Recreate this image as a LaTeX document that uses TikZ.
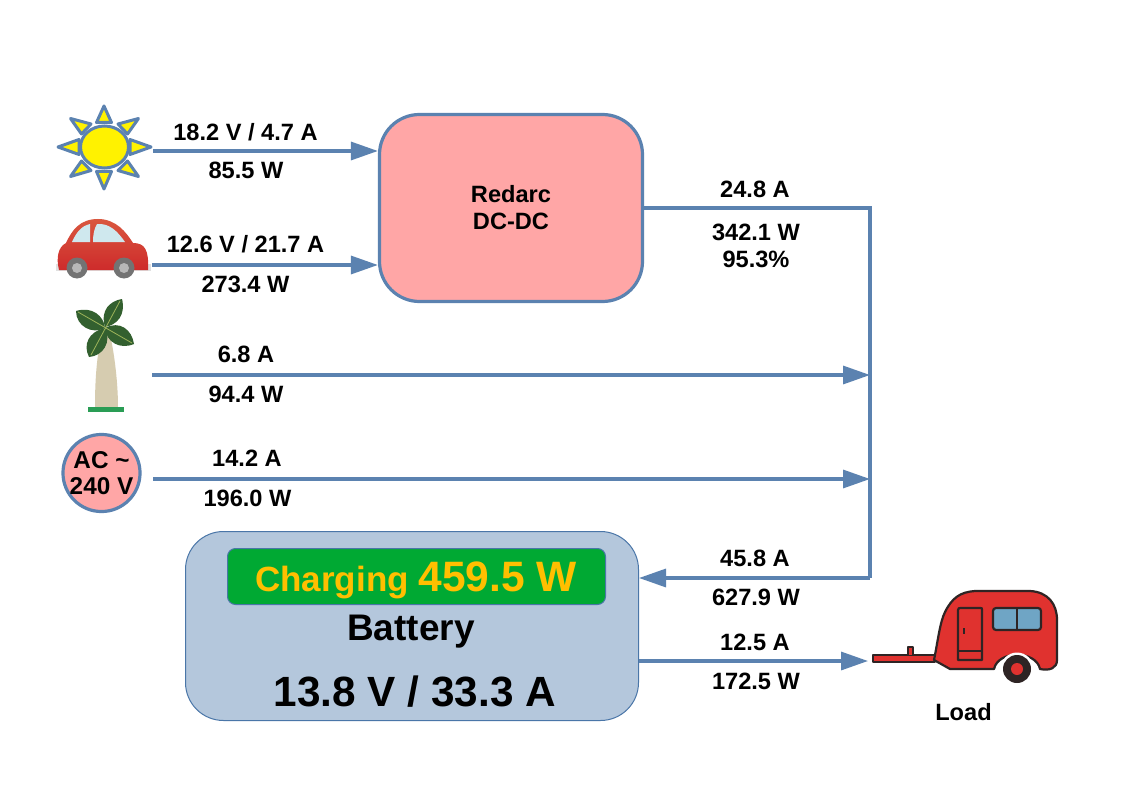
\documentclass[tikz,border=0pt]{standalone}
\usepackage{fontspec}
\setmainfont{Liberation Sans}
\usetikzlibrary{arrows.meta}
\definecolor{flow}{HTML}{5B82B0}
\definecolor{boxpink}{HTML}{FFA6A6}
\definecolor{batblue}{HTML}{B4C7DC}
\definecolor{batline}{HTML}{4A76A8}
\definecolor{chgreen}{HTML}{00A933}
\definecolor{chgold}{HTML}{FFBF00}
\definecolor{cartop}{HTML}{D9573F}
\definecolor{carlow}{HTML}{CE2B2B}
\definecolor{carglass}{HTML}{CFE8EE}
\definecolor{leafgreen}{HTML}{33602F}
\definecolor{veingreen}{HTML}{9DB35A}
\definecolor{trunk}{HTML}{D6CCB0}
\definecolor{grass}{HTML}{2A9D55}
\definecolor{van}{HTML}{E0322F}
\definecolor{vanline}{HTML}{2E2424}
\definecolor{vanglass}{HTML}{6FA5C5}
\tikzset{
  x=1pt,y=-1pt,
  flowline/.style={draw=flow,line width=3.2pt},
  flowarrow/.style={flowline,-{Triangle[length=27pt,width=18pt]}},
  lbl/.style={font=\fontsize{23.6}{27}\selectfont\bfseries,anchor=base,inner sep=0pt,text=black},
  ray/.style={draw=flow,fill=yellow,line width=3pt,line join=round},
  leafshape/.style={fill=leafgreen,draw=none},
  vein/.style={draw=veingreen,line width=.8pt},
  vanstroke/.style={fill=van,draw=vanline,line width=2.2pt,line join=round},
  vanmark/.style={draw=vanline,line width=2.2pt}
}
\begin{document}
\begin{tikzpicture}
\useasboundingbox (0,0) rectangle (1123,794);
\fill[white] (0,0) rectangle (1123,794);

% sun
\foreach \a/\b/\c/\d/\e/\f in {104/106/96.5/122.5/111.5/122.5, 104/189/96.5/171.5/111.5/171.5, 58/147/79/139.5/79/154.5, 151/147/130/139.5/130/154.5,
   70.5/118.5/81.5/134/91/124, 138.5/118.5/127.5/134/118/124, 70.5/176.5/81.5/161/91/170.5, 138.5/176.5/127.5/161/118/170.5}{
  \path[ray] (\a,\b) -- (\c,\d) -- (\e,\f) -- cycle;
}
\path[draw=flow,fill=yellow,line width=3pt] (104.5,147) ellipse [x radius=24,y radius=21];

% car
\fill[black!12] (56,264) rectangle (151,271);
\path[top color=cartop,bottom color=carlow,draw=none] (59,270) .. controls (56,258) and (58,247) .. (66,243)
  .. controls (72,230) and (80,219) .. (98,219) .. controls (116,219) and (126,232) .. (133,243)
  .. controls (145,243) and (149,250) .. (148,270) -- cycle;
\fill[carglass] (72,242) .. controls (76,233) and (81,226) .. (90,224) -- (90,242) -- cycle;
\fill[carglass] (97,224) .. controls (110,223) and (118,232) .. (125,242) -- (93,242) .. controls (93,235) and (94,229) .. (97,224) -- cycle;
\foreach \cx in {77,124}{
  \fill[black!55] (\cx,268) circle (10.5);
  \fill[black!28] (\cx,268) circle (5);
}

% tree
\fill[trunk] (95,407) .. controls (95,385) and (96,355) .. (103,330) -- (109,330)
   .. controls (115,355) and (118,385) .. (118,407) -- cycle;
\fill[grass] (88,407) rectangle (124,412);
\path[leafshape] (105,328) .. controls (104,316) and (92,306) .. (76,311) .. controls (76,326) and (92,335) .. (105,328) -- cycle;
\path[leafshape] (105,327) .. controls (100,310) and (110,301) .. (122,299) .. controls (126,315) and (117,325) .. (105,327) -- cycle;
\path[leafshape] (105,328) .. controls (120,320) and (132,330) .. (134,344) .. controls (120,350) and (106,342) .. (105,328) -- cycle;
\path[leafshape] (105,328) .. controls (112,342) and (103,356) .. (89,357) .. controls (83,345) and (88,332) .. (105,328) -- cycle;
\draw[vein] (78,312) -- (132,343) (120,301) -- (91,355);

% caravan
\path[vanstroke] (873,655) -- (935,655) -- (935,662) -- (873,662) -- cycle;
\path[vanstroke] (908,655) -- (908,647) -- (913,647) -- (913,655);
\path[vanstroke] (934,660) .. controls (938,640) and (940,622) .. (945,612) .. controls (952,598) and (960,592) .. (975,591)
   -- (1030,591) .. controls (1048,592) and (1057,604) .. (1057,620) -- (1057,660)
   .. controls (1057,668) and (1050,671) .. (1040,669) .. controls (1036,650) and (998,650) .. (994,669)
   -- (950,669) -- cycle;
\path[vanstroke] (958,610) .. controls (958,608) and (959,608) .. (961,608) -- (980,608) .. controls (982,608) and (982,608) .. (982,610) -- (982,660) -- (958,660) -- cycle;
\draw[vanmark] (958,651) -- (982,651);
\draw[vanmark] (964,628) -- (964,634);
\path[fill=vanglass,draw=vanline,line width=2.2pt,rounded corners=3pt] (993,608) rectangle (1041,630);
\draw[vanmark] (1017,608) -- (1017,630);
\fill[white] (1017,669) circle (16.5);
\fill[vanline] (1017,669) circle (14);
\fill[van] (1017,669) circle (6);

% boxes
\node[draw=flow,fill=boxpink,line width=3.2pt,rounded corners=40pt,minimum width=263pt,minimum height=187pt,
      align=center,font=\fontsize{23.6}{27}\selectfont\bfseries,inner sep=0pt] (redarc) at (511,208) {Redarc\\DC-DC};
\node[draw=batline,fill=batblue,line width=1pt,rounded corners=38pt,minimum width=453pt,minimum height=189pt,inner sep=0pt] (battery) at (412,626) {};
\node[draw=batline,fill=chgreen,line width=1pt,rounded corners=8pt,minimum width=378pt,minimum height=56pt,inner sep=0pt] (charge) at (416.5,576.5) {};
\node[lbl,text=chgold,font=\bfseries] (chargetext) at (416,591.5) {\fontsize{35}{40}\selectfont Charging \fontsize{42.5}{48}\selectfont 459.5 W};
\node[lbl,font=\fontsize{37}{42}\selectfont\bfseries] (battname) at (411,640) {Battery};
\node[lbl,font=\fontsize{42.3}{50}\selectfont\bfseries] (battval) at (415,706) {13.8 V / 33.3 A};
\node[draw=flow,fill=boxpink,line width=3.2pt,circle,minimum size=77pt,inner sep=0pt,align=center,
      font=\fontsize{24.3}{26.5}\selectfont\bfseries] (ac) at (101.5,473) {AC \textasciitilde\\240 V};

% connector ends
\coordinate (sunOut) at (153,151);
\coordinate (carOut) at (152,265);
\coordinate (treeOut) at (152,375);
\coordinate (acOut) at (153,479);
\coordinate (busTop) at (870,208);
\coordinate (busBottom) at (870,578);
\coordinate (loadIn) at (868,661);

\draw[flowarrow] (sunOut) -- (redarc.west |- sunOut);
\draw[flowarrow] (carOut) -- (redarc.west |- carOut);
\draw[flowline] (redarc.east |- busTop) -- (busTop) -- (busBottom);
\draw[flowarrow] (treeOut) -- (treeOut -| busTop);
\draw[flowarrow] (acOut) -- (acOut -| busTop);
\draw[flowarrow] (busBottom) -- (battery.east |- busBottom);
\draw[flowarrow] (battery.east |- loadIn) -- (loadIn);

% labels
\node[lbl] (l1a) at (245.5,140.5) {18.2 V / 4.7 A};
\node[lbl] (l1b) at (246,178.5) {85.5 W};
\node[lbl] (l2a) at (245.5,252.5) {12.6 V / 21.7 A};
\node[lbl] (l2b) at (245.5,292) {273.4 W};
\node[lbl] (l3a) at (246,362.5) {6.8 A};
\node[lbl] (l3b) at (246,402) {94.4 W};
\node[lbl] (l4a) at (247,466.5) {14.2 A};
\node[lbl] (l4b) at (247.5,506) {196.0 W};
\node[lbl] (l5a) at (755,197.5) {24.8 A};
\node[lbl] (l5b) at (756,240.5) {342.1 W};
\node[lbl] (l5c) at (756,267) {95.3\%};
\node[lbl] (l6a) at (755,566.5) {45.8 A};
\node[lbl] (l6b) at (756,605) {627.9 W};
\node[lbl] (l7a) at (755,650) {12.5 A};
\node[lbl] (l7b) at (756,689) {172.5 W};
\node[lbl] (load) at (963.5,720) {Load};
\end{tikzpicture}
\end{document}
